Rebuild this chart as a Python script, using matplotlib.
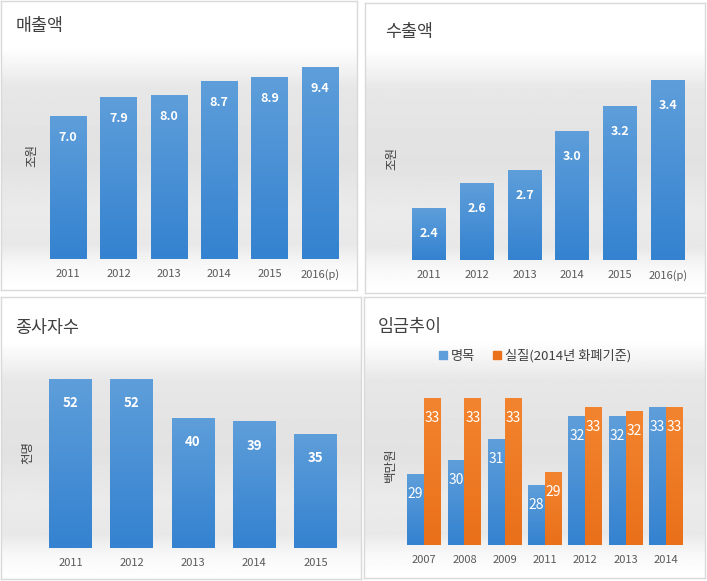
import numpy as np
import matplotlib
matplotlib.use("Agg")
import matplotlib.pyplot as plt
from matplotlib.lines import Line2D
from matplotlib.colors import to_rgb

plt.rcParams['font.family'] = ['Noto Sans CJK KR', 'DejaVu Sans']

W, H = 707, 581

# --- data ---
sales_years = ['2011', '2012', '2013', '2014', '2015', '2016(p)']
sales = [7.0, 7.9, 8.0, 8.7, 8.9, 9.4]

export_years = ['2011', '2012', '2013', '2014', '2015', '2016(p)']
exports = [2.4, 2.6, 2.7, 3.0, 3.2, 3.4]

staff_years = ['2011', '2012', '2013', '2014', '2015']
staff = [52, 52, 40, 39, 35]

wage_years = ['2007', '2008', '2009', '2011', '2012', '2013', '2014']
wage_nominal = [29.0, 29.8, 31.0, 28.4, 32.3, 32.3, 32.8]
wage_real = [33.3, 33.3, 33.3, 29.1, 32.8, 32.6, 32.8]
wage_nominal_labels = ['29', '30', '31', '28', '32', '32', '33']
wage_real_labels = ['33', '33', '33', '29', '33', '32', '33']

BLUE_TOP, BLUE_BOT = '#5E9EDA', '#3482D0'
ORANGE_TOP, ORANGE_BOT = '#F3842F', '#EA701A'
TICK_GRAY = '#595959'
TITLE_GRAY = '#404040'


def px_rect(x0, y0, x1, y1):
    """Pixel box (top-left origin) -> figure fraction rect."""
    return [x0 / W, 1 - y1 / H, (x1 - x0) / W, (y1 - y0) / H]


def panel_frame(fig, box):
    """White panel with thin gray border and soft gray band behind the bars."""
    ax = fig.add_axes(px_rect(*box), zorder=0)
    t = np.linspace(0, 1, 200)
    stops = [0, 0.16, 0.30, 0.55, 0.72, 0.84, 0.92, 1.0]
    grays = [1.0, 1.0, 0.905, 0.885, 0.92, 0.91, 0.975, 1.0]
    g = np.interp(t, stops, grays)
    img = np.repeat(g[:, None], 2, axis=1)
    ax.imshow(img, cmap='gray', vmin=0, vmax=1, extent=[0, 1, 0, 1],
              aspect='auto', interpolation='bilinear')
    ax.set_xlim(0, 1)
    ax.set_ylim(0, 1)
    ax.set_xticks([])
    ax.set_yticks([])
    for s in ax.spines.values():
        s.set_color('#d9d9d9')
        s.set_linewidth(1.0)
    return ax


def gradient_bars(ax, bars, top, bot):
    c0, c1 = np.array(to_rgb(top)), np.array(to_rgb(bot))
    t = np.linspace(0, 1, 64)[:, None]
    col = c0 * (1 - t) + c1 * t
    img = np.repeat(col[:, None, :], 2, axis=1)
    for b in bars:
        x0, y0 = b.get_x(), b.get_y()
        ax.imshow(img, extent=[x0, x0 + b.get_width(), y0, y0 + b.get_height()],
                  aspect='auto', interpolation='bilinear', zorder=3)


def style_axes(ax, labels, xlim, ylim):
    ax.set_xlim(*xlim)
    ax.set_ylim(*ylim)
    ax.patch.set_alpha(0)
    for s in ax.spines.values():
        s.set_visible(False)
    ax.set_yticks([])
    ax.set_xticks(range(len(labels)))
    ax.set_xticklabels(labels, color=TICK_GRAY, fontsize=8)
    ax.tick_params(axis='x', length=0, pad=7)


def unit_label(fig, text, xy):
    """Rotated unit label placed at a pixel position."""
    fig.text(xy[0] / W, 1 - xy[1] / H, text, rotation=90, ha='center', va='center',
             fontsize=9, color=TITLE_GRAY, fontweight='medium', zorder=6)


def single_series(fig, frame_box, plot_box, title, title_xy, cats, vals, ylim,
                  ylabel, ylabel_xy, width, fmt, label_size, label_y_shift):
    frame = panel_frame(fig, frame_box)
    frame.text(title_xy[0], title_xy[1], title, transform=frame.transAxes,
               fontsize=12.5, color=TITLE_GRAY, va='center', ha='left')
    ax = fig.add_axes(px_rect(*plot_box), zorder=1)
    x = np.arange(len(cats))
    bars = ax.bar(x, [v - ylim[0] for v in vals], width, bottom=ylim[0],
                  color=BLUE_BOT, zorder=2)
    gradient_bars(ax, bars, BLUE_TOP, BLUE_BOT)
    for xi, v in zip(x, vals):
        ax.annotate(fmt.format(v), (xi, v), xytext=(0, label_y_shift),
                    textcoords='offset points', ha='center', va='center',
                    color='white', fontsize=label_size, fontweight='bold', zorder=5)
    style_axes(ax, cats, (-0.5, len(cats) - 0.5), ylim)
    unit_label(fig, ylabel, ylabel_xy)
    return ax


def wage_panel(fig):
    frame = panel_frame(fig, (364, 297, 705, 578))
    frame.text(0.04, 0.895, '임금추이', transform=frame.transAxes,
               fontsize=12.5, color=TITLE_GRAY, va='center', ha='left')
    ax = fig.add_axes(px_rect(404, 369, 686, 545), zorder=1)
    x = np.arange(len(wage_years))
    w = 0.42
    ymin = 25
    b1 = ax.bar(x - w / 2, [v - ymin for v in wage_nominal], w, bottom=ymin,
                color=BLUE_BOT, zorder=2)
    b2 = ax.bar(x + w / 2, [v - ymin for v in wage_real], w, bottom=ymin,
                color=ORANGE_BOT, zorder=2)
    gradient_bars(ax, b1, BLUE_TOP, BLUE_BOT)
    gradient_bars(ax, b2, ORANGE_TOP, ORANGE_BOT)
    for xi, v, lab in zip(x, wage_nominal, wage_nominal_labels):
        ax.annotate(lab, (xi - w / 2, v), xytext=(0, -14), textcoords='offset points',
                    ha='center', va='center', color='white', fontsize=10, zorder=5)
    for xi, v, lab in zip(x, wage_real, wage_real_labels):
        ax.annotate(lab, (xi + w / 2, v), xytext=(0, -14), textcoords='offset points',
                    ha='center', va='center', color='white', fontsize=10, zorder=5)
    style_axes(ax, wage_years, (-0.5, len(wage_years) - 0.5), (ymin, 35))
    unit_label(fig, '백만원', (390, 465))
    handles = [Line2D([], [], marker='s', linestyle='', color=BLUE_TOP, markersize=6),
               Line2D([], [], marker='s', linestyle='', color=ORANGE_BOT, markersize=6)]
    frame.legend(handles, ['명목', '실질(2014년 화폐기준)'], loc='center',
                 bbox_to_anchor=(0.5, 0.79), ncol=2, frameon=False, fontsize=9.5,
                 handlelength=0.8, handletextpad=0.2, columnspacing=1.3,
                 labelcolor=TITLE_GRAY)


def main():
    fig = plt.figure(figsize=(W / 100, H / 100), dpi=100)
    fig.patch.set_facecolor('white')

    single_series(fig, (1, 1, 357, 290), (43, 55, 345, 259), '매출액', (0.04, 0.915),
                  sales_years, sales, (0, 10), '조원', (32, 155), 0.72, '{:.1f}', 9, -15)
    single_series(fig, (365, 3, 705, 293), (405, 55, 692, 260), '수출액', (0.06, 0.9),
                  export_years, exports, (2.0, 3.6), '조원', (392, 158), 0.71, '{:.1f}', 9, -18)
    single_series(fig, (1, 297, 361, 579), (40, 354, 346, 548), '종사자수', (0.04, 0.89),
                  staff_years, staff, (0, 60), '천명', (28, 452), 0.70, '{:d}', 9.5, -17)
    wage_panel(fig)

    fig.savefig('out.png', dpi=100)
    plt.close(fig)


if __name__ == "__main__":
    main()
